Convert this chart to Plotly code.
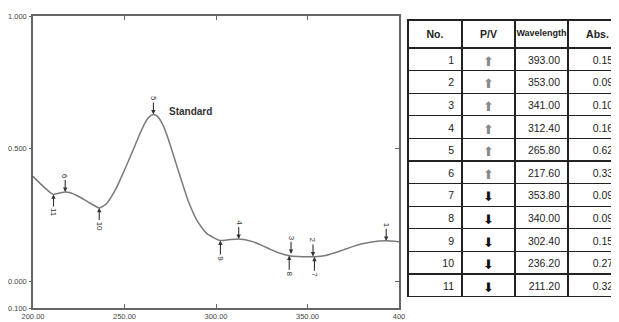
import plotly.graph_objects as go

# Spectrum curve samples
wavelength = [200, 205, 210, 211.2, 215, 217.6, 220, 225, 230, 236.2, 240, 245, 250, 255, 258,
              261, 263.5, 265.8, 268, 271, 274, 277, 280, 285, 290, 295, 302.4, 307, 312.4, 320,
              325, 330, 335, 340, 345, 350, 353.8, 360, 365, 370, 375, 380, 385, 393, 400]
absorbance = [0.396, 0.362, 0.332, 0.328, 0.334, 0.337, 0.335, 0.320, 0.300, 0.277, 0.292, 0.345,
              0.420, 0.500, 0.550, 0.595, 0.620, 0.629, 0.622, 0.590, 0.535, 0.470, 0.405, 0.300,
              0.225, 0.180, 0.154, 0.157, 0.160, 0.150, 0.136, 0.120, 0.106, 0.097, 0.094, 0.093,
              0.093, 0.098, 0.108, 0.120, 0.132, 0.142, 0.149, 0.153, 0.150]

# Peak/valley table
nos = [1, 2, 3, 4, 5, 6, 7, 8, 9, 10, 11]
pv = ["P", "P", "P", "P", "P", "P", "V", "V", "V", "V", "V"]
table_wl = [393.00, 353.00, 341.00, 312.40, 265.80, 217.60, 353.80, 340.00, 302.40, 236.20, 211.20]
table_abs = [0.153, 0.094, 0.104, 0.160, 0.629, 0.337, 0.093, 0.097, 0.154, 0.277, 0.328]

x_ticks = [200, 250, 300, 350, 400]
x_ticklabels = ["200.00", "250.00", "300.00", "350.00", "400"]
y_ticks = [-0.1, 0.0, 0.5, 1.0]
y_ticklabels = ["-0.100", "0.000", "0.500", "1.000"]

# the page body has an 8px margin, so figure coords = page coords - 8
OFF = 8
W, H = 619, 322
ml, mr, mt, mb = 33 - OFF, 0, 16 - OFF, H - (308 - OFF)
pw, ph = W - ml - mr, H - mt - mb

def px_x(p):  # page x -> paper x
    return (p - OFF - ml) / pw

def px_y(p):  # page y -> paper y
    return 1 - (p - OFF - mt) / ph

fig = go.Figure()
fig.add_trace(go.Scatter(x=wavelength, y=absorbance, mode="lines",
                         line=dict(color="#7a7a7a", width=1.5, shape="spline", smoothing=0.5),
                         hoverinfo="skip", showlegend=False))

axis_color = "#666666"
tick_font = dict(family="Liberation Sans, Arial, sans-serif", size=7.5, color="#444444")

fig.update_layout(
    template="none",
    width=W, height=H,
    margin=dict(l=ml, r=mr, t=mt, b=mb),
    paper_bgcolor="white", plot_bgcolor="white",
    xaxis=dict(domain=[0, px_x(399)], range=[200, 400], tickvals=x_ticks, ticktext=x_ticklabels,
               ticks="inside", ticklen=4, tickcolor=axis_color, showline=True, linecolor=axis_color,
               linewidth=1.5, mirror="ticks", showgrid=False, zeroline=False, tickfont=tick_font,
               anchor="y", automargin=False),
    yaxis=dict(range=[-0.1, 1.0], tickvals=y_ticks, ticktext=y_ticklabels,
               ticks="outside", ticklen=2, tickcolor=axis_color, showline=True, linecolor=axis_color,
               linewidth=1.5, mirror=True, showgrid=False, zeroline=False, tickfont=tick_font,
               ticklabelstandoff=1, anchor="x", automargin=False),
    yaxis2=dict(range=[-0.1, 1.0], tickvals=[0.0, 0.5], ticks="inside", ticklen=4,
                tickcolor=axis_color, showticklabels=False, overlaying="y", side="right",
                anchor="x", showgrid=False, zeroline=False, showline=False, automargin=False),
)
# invisible trace to activate yaxis2
fig.add_trace(go.Scatter(x=[200], y=[0], yaxis="y2", mode="markers",
                         marker=dict(opacity=0), hoverinfo="skip", showlegend=False))

# Peak / valley markers
for n, kind, wl, a in zip(nos, pv, table_wl, table_abs):
    fig.add_annotation(x=wl, y=a, xref="x", yref="y", text=str(n), textangle=90,
                       showarrow=True, arrowhead=2, arrowsize=0.8, arrowwidth=1.1,
                       arrowcolor="#333333", ax=0, ay=-16 if kind == "P" else 18,
                       standoff=0, font=dict(family="Liberation Sans, Arial, sans-serif",
                                             size=8, color="#333333"))

fig.add_annotation(x=286, y=0.64, xref="x", yref="y", text="<b>Standard</b>", showarrow=False,
                   font=dict(family="Liberation Sans, Arial, sans-serif",
                             size=10, color="#333333"))

# Table
icons = ["\u2B06" if k == "P" else "\u2B07" for k in pv]
icon_colors = ["#888888" if k == "P" else "#111111" for k in pv]
tfont = "Liberation Sans, Arial, sans-serif"
fig.add_trace(go.Table(
    domain=dict(x=[px_x(408), 1.0], y=[px_y(300), px_y(20)]),
    columnwidth=[54, 53, 53, 59],
    header=dict(values=["<b>No.</b>", "<b>P/V</b>", "<b>Wavelength</b>", "<b>Abs.</b>"],
                align="center", height=28, line=dict(color="#222222", width=1.2),
                fill=dict(color="white"),
                font=dict(family=tfont, size=[10.5, 10.5, 9, 10.5], color="#222222")),
    cells=dict(values=[[str(n) for n in nos], icons,
                       [f"{v:.2f}" for v in table_wl], [f"{v:.3f}" for v in table_abs]],
               align=["right", "center", "right", "right"], height=22.6,
               line=dict(color="#222222", width=1.2), fill=dict(color="white"),
               font=dict(family=tfont, size=[10.5, 13, 10.5, 10.5],
                         color=["#222222", icon_colors, "#222222", "#222222"])),
))

fig.write_html("out.html")
